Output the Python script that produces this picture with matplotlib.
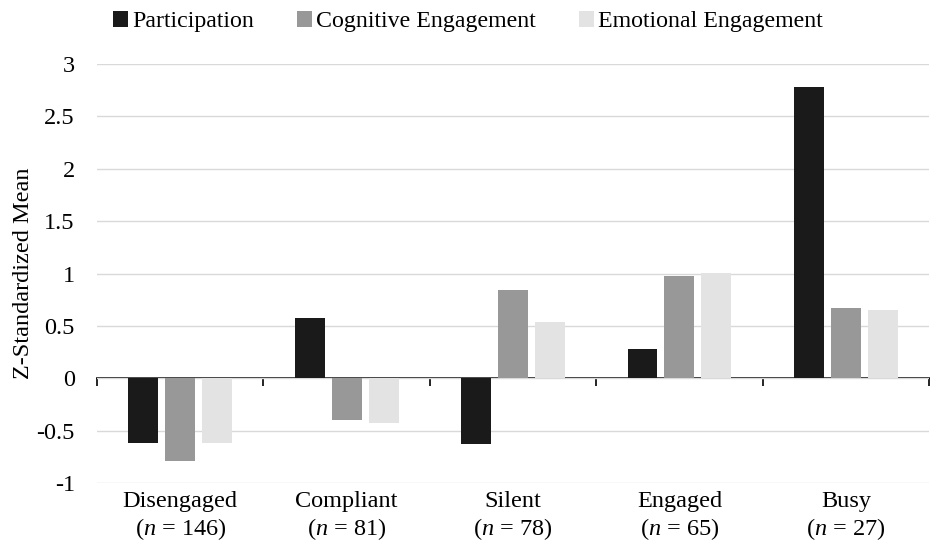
import numpy as np
import matplotlib.pyplot as plt

plt.rcParams['font.family'] = ['Liberation Serif', 'DejaVu Serif']
plt.rcParams['mathtext.fontset'] = 'custom'
plt.rcParams['mathtext.rm'] = 'Liberation Serif'
plt.rcParams['mathtext.it'] = 'Liberation Serif:italic'

# Profiles and group sizes
profiles = ["Disengaged", "Compliant", "Silent", "Engaged", "Busy"]
group_n = [146, 81, 78, 65, 27]

# Z-standardized means per profile
participation = [-0.62, 0.58, -0.63, 0.28, 2.78]
cognitive = [-0.79, -0.40, 0.84, 0.98, 0.67]
emotional = [-0.62, -0.43, 0.54, 1.01, 0.65]

series_names = ["Participation", "Cognitive Engagement", "Emotional Engagement"]
series_colors = ["#1a1a1a", "#989898", "#e3e3e3"]

fig = plt.figure(figsize=(9.3, 5.41), dpi=100)
ax = fig.add_axes([0.1043, 0.107, 0.8947, 0.7747])

x = np.arange(len(profiles))
width = 0.18
step = 0.222
for i, (vals, name, col) in enumerate(zip([participation, cognitive, emotional],
                                          series_names, series_colors)):
    ax.bar(x + (i - 1) * step, vals, width, color=col, label=name, zorder=2)

ax.set_xlim(-0.5, len(profiles) - 0.5)
ax.set_ylim(-1, 3)
ax.set_yticks(np.arange(-1, 3.01, 0.5))
ax.set_yticklabels(["-1", "-0.5", "0", "0.5", "1", "1.5", "2", "2.5", "3"])
ax.set_xticks(x)
ax.set_xticklabels([f"{p}\n($\\it{{n}}$ = {n})" for p, n in zip(profiles, group_n)])
ax.tick_params(axis='both', length=0, labelsize=17.5)
ax.tick_params(axis='y', pad=16)
ax.tick_params(axis='x', pad=6)
for s in ax.spines.values():
    s.set_visible(False)
ax.grid(axis='y', color='#d9d9d9', linewidth=1, zorder=0)
ax.set_ylabel("Z-Standardized Mean", fontsize=17.5, labelpad=2)

# zero line with category boundary ticks
zero_ax = ax.secondary_xaxis(0.25)
zero_ax.set_xticks(np.arange(-0.5, len(profiles), 1.0))
zero_ax.set_xticklabels([])
zero_ax.tick_params(direction='out', length=6, width=1.2, color='black')
zero_ax.spines['bottom'].set_linewidth(1.2)
zero_ax.spines['bottom'].set_zorder(3)

fig.legend(loc='center', bbox_to_anchor=(0.503, 0.96), ncol=3, frameon=False,
           fontsize=17.2, handlelength=0.63, handleheight=0.63, handletextpad=0.17,
           columnspacing=1.8)

fig.savefig("out.png", dpi=100)
